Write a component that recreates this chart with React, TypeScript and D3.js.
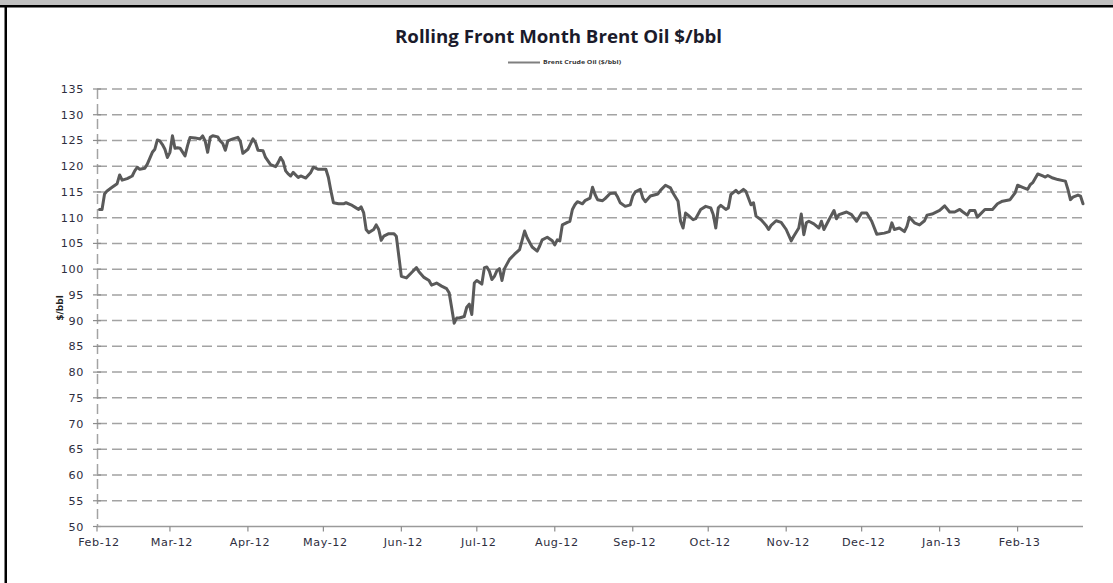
import React from "react";
import * as d3 from "d3";

const dates: string[] = [
  "2012-02-02","2012-02-03","2012-02-04","2012-02-05","2012-02-07","2012-02-09","2012-02-10","2012-02-11","2012-02-13","2012-02-15",
  "2012-02-16","2012-02-17","2012-02-18","2012-02-20","2012-02-21","2012-02-23","2012-02-24","2012-02-25","2012-02-26","2012-02-27",
  "2012-02-28","2012-02-29","2012-03-01","2012-03-02","2012-03-03","2012-03-04","2012-03-05","2012-03-07","2012-03-08","2012-03-09",
  "2012-03-11","2012-03-13","2012-03-14","2012-03-15","2012-03-16","2012-03-17","2012-03-18","2012-03-20","2012-03-21","2012-03-22",
  "2012-03-23","2012-03-24","2012-03-26","2012-03-28","2012-03-29","2012-03-30","2012-04-01","2012-04-02","2012-04-03","2012-04-04",
  "2012-04-05","2012-04-07","2012-04-08","2012-04-10","2012-04-12","2012-04-13","2012-04-14","2012-04-15","2012-04-16","2012-04-17",
  "2012-04-18","2012-04-19","2012-04-21","2012-04-22","2012-04-24","2012-04-26","2012-04-27","2012-04-29","2012-05-02","2012-05-03",
  "2012-05-04","2012-05-05","2012-05-07","2012-05-09","2012-05-10","2012-05-12","2012-05-14","2012-05-15","2012-05-16","2012-05-17",
  "2012-05-18","2012-05-19","2012-05-21","2012-05-22","2012-05-23","2012-05-24","2012-05-25","2012-05-27","2012-05-29","2012-05-30",
  "2012-05-31","2012-06-01","2012-06-03","2012-06-05","2012-06-07","2012-06-08","2012-06-10","2012-06-12","2012-06-13","2012-06-15",
  "2012-06-17","2012-06-19","2012-06-20","2012-06-21","2012-06-22","2012-06-23","2012-06-24","2012-06-26","2012-06-27","2012-06-28",
  "2012-06-29","2012-06-30","2012-07-01","2012-07-03","2012-07-04","2012-07-05","2012-07-06","2012-07-07","2012-07-08","2012-07-09",
  "2012-07-10","2012-07-11","2012-07-12","2012-07-14","2012-07-16","2012-07-18","2012-07-20","2012-07-21","2012-07-23","2012-07-25",
  "2012-07-26","2012-07-27","2012-07-29","2012-07-31","2012-08-01","2012-08-02","2012-08-03","2012-08-04","2012-08-06","2012-08-07",
  "2012-08-08","2012-08-09","2012-08-10","2012-08-12","2012-08-13","2012-08-15","2012-08-16","2012-08-17","2012-08-18","2012-08-20",
  "2012-08-21","2012-08-23","2012-08-25","2012-08-26","2012-08-27","2012-08-29","2012-08-31","2012-09-01","2012-09-02","2012-09-04",
  "2012-09-05","2012-09-06","2012-09-08","2012-09-11","2012-09-12","2012-09-14","2012-09-16","2012-09-17","2012-09-19","2012-09-20",
  "2012-09-21","2012-09-22","2012-09-23","2012-09-25","2012-09-26","2012-09-28","2012-09-30","2012-10-02","2012-10-03","2012-10-04",
  "2012-10-05","2012-10-06","2012-10-08","2012-10-09","2012-10-10","2012-10-12","2012-10-13","2012-10-14","2012-10-15","2012-10-16",
  "2012-10-18","2012-10-19","2012-10-20","2012-10-22","2012-10-24","2012-10-25","2012-10-26","2012-10-28","2012-10-30","2012-11-01",
  "2012-11-03","2012-11-04","2012-11-06","2012-11-07","2012-11-08","2012-11-09","2012-11-10","2012-11-12","2012-11-14","2012-11-15",
  "2012-11-16","2012-11-18","2012-11-20","2012-11-21","2012-11-22","2012-11-25","2012-11-27","2012-11-29","2012-12-01","2012-12-03",
  "2012-12-05","2012-12-07","2012-12-10","2012-12-12","2012-12-13","2012-12-14","2012-12-16","2012-12-18","2012-12-19","2012-12-20",
  "2012-12-22","2012-12-24","2012-12-26","2012-12-27","2012-12-29","2013-01-01","2013-01-03","2013-01-05","2013-01-07","2013-01-09",
  "2013-01-10","2013-01-12","2013-01-13","2013-01-15","2013-01-16","2013-01-17","2013-01-19","2013-01-22","2013-01-24","2013-01-26",
  "2013-01-29","2013-01-31","2013-02-01","2013-02-03","2013-02-05","2013-02-06","2013-02-07","2013-02-09","2013-02-11","2013-02-12",
  "2013-02-13","2013-02-15","2013-02-17","2013-02-19","2013-02-20","2013-02-21","2013-02-22","2013-02-23","2013-02-25","2013-02-26",
  "2013-02-27",
];

const prices: number[] = [
  111.6,111.6,114.6,115.2,115.9,116.6,118.3,117.3,117.6,118.1,
  119.1,119.8,119.4,119.6,120.4,122.7,123.3,125.1,124.9,124.2,
  123.3,121.7,122.7,125.9,123.5,123.6,123.5,122.0,124.0,125.6,
  125.5,125.3,125.9,124.9,122.7,125.6,125.9,125.7,124.9,124.4,
  123.1,124.9,125.3,125.6,124.8,122.5,123.3,124.3,125.3,124.6,
  123.1,123.0,121.7,120.3,119.9,120.7,121.7,120.9,119.1,118.5,
  118.1,118.8,117.8,118.1,117.7,118.8,119.8,119.4,119.4,117.8,
  115.2,112.9,112.7,112.7,112.9,112.5,111.9,111.6,112.1,111.0,
  107.7,107.1,107.7,108.6,107.7,105.6,106.4,106.9,106.9,106.4,
  102.5,98.6,98.3,99.3,100.3,99.5,98.4,97.8,96.9,97.3,
  96.7,96.2,95.4,92.5,89.5,90.5,90.5,90.8,92.6,93.2,
  91.2,97.3,97.8,97.1,100.3,100.4,99.6,98.0,98.6,99.7,
  100.1,97.8,100.1,101.9,102.9,103.8,107.4,106.1,104.3,103.5,
  104.5,105.7,106.2,105.5,104.7,105.7,105.5,108.6,109.1,109.3,
  111.6,112.5,113.1,112.7,113.3,113.8,115.9,114.5,113.5,113.3,
  113.7,114.7,114.8,114.0,112.9,112.2,112.5,114.2,115.0,115.5,
  113.8,113.1,114.2,114.6,115.3,116.3,115.8,114.8,113.2,109.3,
  108.0,110.9,110.5,109.6,109.8,111.6,112.2,111.9,110.6,108.0,
  111.9,112.4,111.6,111.9,114.5,115.3,114.8,115.1,115.5,115.1,
  112.5,112.9,110.3,109.6,108.5,107.7,108.5,109.4,109.1,107.7,
  105.5,106.4,108.0,110.7,106.7,109.0,109.3,108.8,108.0,109.3,
  107.7,109.6,111.4,109.8,110.6,111.1,110.6,109.3,110.9,110.9,
  109.3,106.8,107.0,107.3,109.0,107.7,108.0,107.3,108.3,110.1,
  109.0,108.6,109.4,110.5,110.7,111.4,112.3,111.1,111.1,111.6,
  111.2,110.5,111.4,111.4,110.1,110.6,111.6,111.6,112.7,113.2,
  113.5,114.8,116.3,115.9,115.5,116.4,116.8,118.5,118.1,117.9,
  118.2,117.7,117.4,117.2,117.1,115.5,113.5,114.0,114.4,114.2,
  112.7,
];

const yTicks: number[] = [50,55,60,65,70,75,80,85,90,95,100,105,110,115,120,125,130,135];
const xStart = "2012-02-01";
const xEnd = "2013-02-27";
const title = "Rolling Front Month Brent Oil $/bbl";
const seriesName = "Brent Crude Oil ($/bbl)";
const yAxisTitle = "$/bbl";

const W = 1113;
const H = 583;

export default function App() {
  const parse = d3.timeParse("%Y-%m-%d");
  const x = d3.scaleTime().domain([parse(xStart)!, parse(xEnd)!]).range([97, 1083]);
  const y = d3.scaleLinear().domain([50, 135]).range([526.5, 89]);
  const pts = dates.map((d, i) => ({ d: parse(d)!, v: prices[i] }));
  const line = d3.line<{ d: Date; v: number }>().x((p) => x(p.d)).y((p) => y(p.v));
  const months = d3.timeMonth.range(parse(xStart)!, d3.timeDay.offset(parse(xEnd)!, 1));
  const fmt = d3.timeFormat("%b-%y");
  const labelFont = "'DejaVu Sans', Verdana, sans-serif";
  const gridColor = "#a3a3a3";

  return (
    <svg width={W} height={H} style={{ position: "absolute", left: 0, top: 0, background: "#fff" }}>
      <rect x={0} y={0} width={W} height={5} fill="#c0c0c0" />
      <rect x={0} y={5} width={W} height={2.5} fill="#000" />
      <rect x={4.5} y={5} width={2.5} height={H - 5} fill="#000" />

      <text x={558.5} y={43} textAnchor="middle" fontFamily="'Liberation Sans Narrow', 'Open Sans', sans-serif" fontWeight="bold" fontSize={17.5} fill="#1b1b2b" textLength={327} lengthAdjust="spacingAndGlyphs">{title}</text>

      <line x1={508} x2={540} y1={62.5} y2={62.5} stroke="#7f7f7f" strokeWidth={2} />
      <text x={543} y={64.3} fontFamily="'Open Sans', sans-serif" fontWeight="bold" fontSize={5} fill="#333" textLength={78} lengthAdjust="spacingAndGlyphs">{seriesName}</text>

      {yTicks.filter((t) => t > 50).map((t) => (
        <line key={"g" + t} x1={97} x2={1083} y1={y(t)} y2={y(t)} stroke={gridColor} strokeWidth={1.5} strokeDasharray="10,5" />
      ))}
      <line x1={97.5} x2={97.5} y1={y(135)} y2={y(50)} stroke={gridColor} strokeWidth={1.5} strokeDasharray="10,5" />
      {yTicks.map((t) => (
        <g key={"yt" + t}>
          <line x1={93} x2={101} y1={y(t)} y2={y(t)} stroke="#8c8c8c" strokeWidth={1.2} />
          <text x={84} y={y(t) + 4} textAnchor="end" fontFamily={labelFont} fontSize={11.2} letterSpacing={0.6} fill="#2e2e3e">{t}</text>
        </g>
      ))}
      <line x1={97} x2={1083} y1={y(50)} y2={y(50)} stroke="#9a9a9a" strokeWidth={1.5} />
      {months.map((m) => (
        <g key={"xt" + m.getTime()}>
          <line x1={x(m)} x2={x(m)} y1={y(50)} y2={y(50) + 5} stroke="#8c8c8c" strokeWidth={1.2} />
          <text x={x(m) + 2} y={546} textAnchor="middle" fontFamily={labelFont} fontSize={11.2} letterSpacing={0.6} fill="#2e2e3e">{fmt(m)}</text>
        </g>
      ))}
      <text transform={`translate(63,308) rotate(-90)`} textAnchor="middle" fontFamily={labelFont} fontWeight="bold" fontSize={9} fill="#222">{yAxisTitle}</text>

      <path d={line(pts) || ""} fill="none" stroke="#5a5a5a" strokeWidth={3} strokeLinejoin="round" strokeLinecap="round" />
    </svg>
  );
}
